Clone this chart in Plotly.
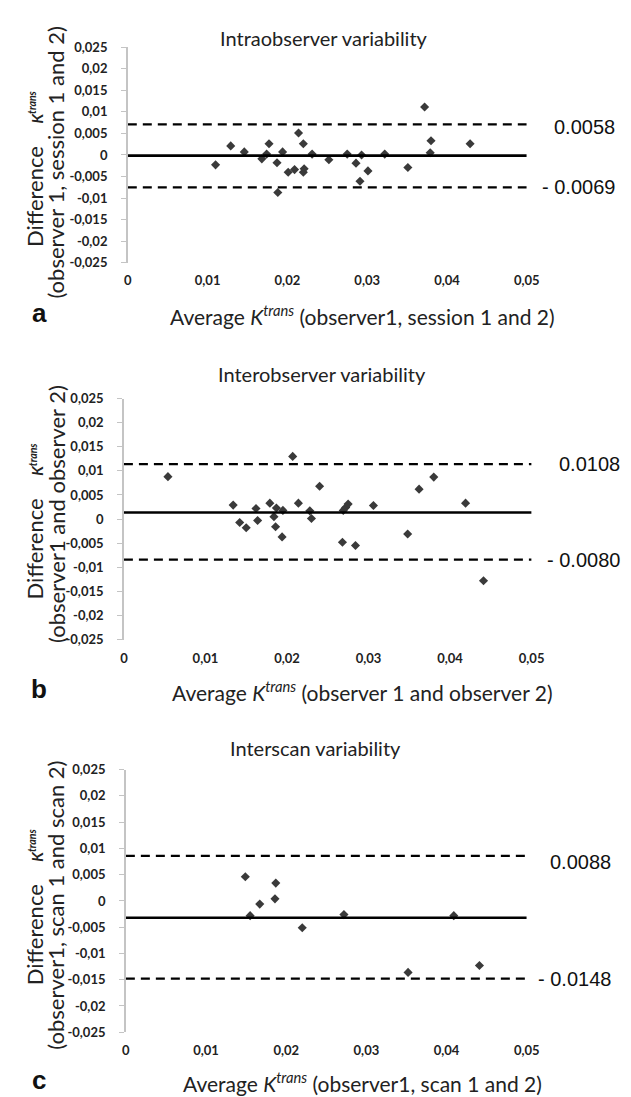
import plotly.graph_objects as go

W, H = 631, 1097

# ---- tick labels ----
x_ticks = [0, 0.01, 0.02, 0.03, 0.04, 0.05]
x_tick_text = ["0", "0,01", "0,02", "0,03", "0,04", "0,05"]
y_ticks = [0.025, 0.02, 0.015, 0.01, 0.005, 0, -0.005, -0.01, -0.015, -0.02, -0.025]
y_tick_text = ["0,025", "0,02", "0,015", "0,01", "0,005", "0",
               "-0,005", "-0,01", "-0,015", "-0,02", "-0,025"]

# ---- panel a: intraobserver ----
a_title = "Intraobserver variability"
a_avg = [0.0110, 0.0129, 0.0146, 0.0168, 0.0174, 0.0177, 0.0187, 0.0188, 0.0194,
         0.0201, 0.0209, 0.0214, 0.0220, 0.0221, 0.0220, 0.0231, 0.0252, 0.0275,
         0.0286, 0.0291, 0.0293, 0.0301, 0.0322, 0.0351, 0.0372, 0.0380, 0.0379, 0.0429]
a_diff = [-0.0023, 0.0021, 0.0007, -0.0009, 0.0002, 0.0026, -0.0018, -0.0087, 0.0007,
          -0.0040, -0.0034, 0.0051, 0.0026, -0.0032, -0.0040, 0.0002, -0.0011, 0.0002,
          -0.0019, -0.0061, 0.0000, -0.0037, 0.0002, -0.0029, 0.0111, 0.0033, 0.0005, 0.0026]
a_mean, a_upper, a_lower = -0.00015, 0.0071, -0.0075
a_upper_label, a_lower_label = "0.0058", "- 0.0069"
a_ytitle2 = "(observer 1, session 1 and 2)"
a_xtitle = "Average <i>K<sup>trans</sup></i> (observer1, session 1 and 2)"

# ---- panel b: interobserver ----
b_title = "Interobserver variability"
b_avg = [0.0054, 0.0134, 0.0142, 0.0150, 0.0162, 0.0164, 0.0179, 0.0184, 0.0186,
         0.0187, 0.0195, 0.0194, 0.0207, 0.0214, 0.0228, 0.0230, 0.0240, 0.0268,
         0.0269, 0.0272, 0.0275, 0.0284, 0.0306, 0.0348, 0.0362, 0.0380, 0.0419, 0.0441]
b_diff = [0.0088, 0.0029, -0.0007, -0.0018, 0.0022, -0.0003, 0.0033, 0.0005, -0.0016,
          0.0023, 0.0018, -0.0037, 0.0130, 0.0033, 0.0017, 0.0001, 0.0068, -0.0048,
          0.0018, 0.0024, 0.0031, -0.0055, 0.0028, -0.0031, 0.0062, 0.0087, 0.0033, -0.0128]
b_mean, b_upper, b_lower = 0.00136, 0.0114, -0.0084
b_upper_label, b_lower_label = "0.0108", "- 0.0080"
b_ytitle2 = "(observer1 and observer 2)"
b_xtitle = "Average <i>K<sup>trans</sup></i> (observer 1 and observer 2)"

# ---- panel c: interscan ----
c_title = "Interscan variability"
c_avg = [0.0149, 0.0155, 0.0167, 0.0187, 0.0186, 0.0220, 0.0272, 0.0352, 0.0409, 0.0441]
c_diff = [0.0046, -0.0028, -0.0006, 0.0034, 0.0004, -0.0051, -0.0026, -0.0136, -0.0028, -0.0123]
c_mean, c_upper, c_lower = -0.0032, 0.0086, -0.0148
c_upper_label, c_lower_label = "0.0088", "- 0.0148"
c_ytitle2 = "(observer1, scan 1 and scan 2)"
c_xtitle = "Average <i>K<sup>trans</sup></i> (observer1, scan 1 and 2)"

ytitle1 = ("Difference    <span style='font-size:15px'><b><i>K<sup>trans</sup></i></b></span>")
panel_letters = ["a", "b", "c"]

# ---- layout geometry (pixels) ----
panels = [
    dict(avg=a_avg, diff=a_diff, mean=a_mean, up=a_upper, lo=a_lower,
         uplab=a_upper_label, lolab=a_lower_label, title=a_title, yt2=a_ytitle2, xt=a_xtitle,
         x0=119, x1=529, ytop=31.5, ybot=250.5, ticklen=6, titlex=321, titley=22,
         xtitley=303, labx=622, upshift=-3, loshift=0, y1off=14, y2off=8),
    dict(avg=b_avg, diff=b_diff, mean=b_mean, up=b_upper, lo=b_lower,
         uplab=b_upper_label, lolab=b_lower_label, title=b_title, yt2=b_ytitle2, xt=b_xtitle,
         x0=115, x1=534, ytop=388.2, ybot=632.8, ticklen=7, titlex=319, titley=363,
         xtitley=685, labx=627, upshift=0, loshift=0, y1off=2, y2off=-5),
    dict(avg=c_avg, diff=c_diff, mean=c_mean, up=c_upper, lo=c_lower,
         uplab=c_upper_label, lolab=c_lower_label, title=c_title, yt2=c_ytitle2, xt=c_xtitle,
         x0=117, x1=529, ytop=764.8, ybot=1031.3, ticklen=6, titlex=312, titley=743,
         xtitley=1082, labx=618, upshift=-6, loshift=0, y1off=6, y2off=4),
]

def py(p):
    return 1 - p / H

def px(p):
    return p / W

fig = go.Figure()
annotations = []
tickfont = dict(family="Lato", size=13, color="#222222", weight="bold")
textfont = "Lato"
dark = "#222222"

for i, p in enumerate(panels):
    n = "" if i == 0 else str(i + 1)
    xa, ya = "x" + n, "y" + n
    # data points
    fig.add_trace(go.Scatter(x=p["avg"], y=p["diff"], mode="markers", xaxis=xa, yaxis=ya,
                             marker=dict(symbol="diamond", size=7, color="#3a3a3a"),
                             showlegend=False, cliponaxis=False))
    # mean line and limits of agreement
    fig.add_trace(go.Scatter(x=[0, 0.05], y=[p["mean"], p["mean"]], mode="lines",
                             xaxis=xa, yaxis=ya, line=dict(color="black", width=2.6),
                             showlegend=False, hoverinfo="skip"))
    for v in (p["up"], p["lo"]):
        fig.add_trace(go.Scatter(x=[0, 0.05], y=[v, v], mode="lines", xaxis=xa, yaxis=ya,
                                 line=dict(color="black", width=2.2, dash="9px,6px"),
                                 showlegend=False, hoverinfo="skip"))
    xdom = [px(p["x0"]), px(p["x1"])]
    ydom = [py(p["ybot"]), py(p["ytop"])]
    fig.update_layout(**{
        ("xaxis" + n): dict(domain=xdom, range=[0, 0.05], anchor=ya, showline=False,
                             showgrid=False, zeroline=False, tickvals=x_ticks,
                             ticktext=x_tick_text, ticks="outside", ticklen=p["ticklen"],
                             tickcolor="rgba(0,0,0,0)", tickfont=tickfont, fixedrange=True),
        ("yaxis" + n): dict(domain=ydom, range=[-0.025, 0.025], anchor=xa, showline=True,
                             linecolor="#c4c4c4", linewidth=1.5, showgrid=False,
                             zeroline=False, tickvals=y_ticks, ticktext=y_tick_text,
                             ticks="outside", ticklen=5, tickcolor="#c4c4c4", tickwidth=1.2,
                             ticklabelstandoff=11, tickfont=tickfont, fixedrange=True),
    })
    common = dict(xref="paper", yref="paper", showarrow=False,
                  xanchor="center", yanchor="middle")
    # chart title
    annotations.append(dict(text=p["title"], x=px(p["titlex"]), y=py(p["titley"]),
                            font=dict(family=textfont, size=20, color=dark), **common))
    # y-axis titles (two rotated lines)
    ymid = (p["ytop"] + p["ybot"]) / 2
    annotations.append(dict(text=ytitle1, x=px(23), y=py(ymid + p["y1off"]), textangle=-90,
                            font=dict(family=textfont, size=22, color=dark), **common))
    annotations.append(dict(text=p["yt2"], x=px(45), y=py(ymid + p["y2off"]), textangle=-90,
                            font=dict(family=textfont, size=22, color=dark), **common))
    # x-axis title and panel letter
    annotations.append(dict(text=p["xt"], x=px(360), y=py(p["xtitley"]),
                            font=dict(family=textfont, size=21, color=dark), **common))
    annotations.append(dict(text="<b>" + panel_letters[i] + "</b>", x=px(28),
                            y=py(p["xtitley"] - 2),
                            font=dict(family="Liberation Sans", size=26, color="#111111"),
                            **common))
    # limit labels on right
    annotations.append(dict(text=p["uplab"], x=px(p["labx"]), xanchor="right", y=p["up"],
                            yref=ya, xref="paper", yanchor="middle", yshift=p["upshift"],
                            showarrow=False,
                            font=dict(family="Liberation Sans", size=20, color="#111111")))
    annotations.append(dict(text=p["lolab"], x=px(p["labx"]), xanchor="right", y=p["lo"],
                            yref=ya, xref="paper", yanchor="middle", yshift=p["loshift"],
                            showarrow=False,
                            font=dict(family="Liberation Sans", size=20, color="#111111")))

fig.update_layout(width=W, height=H, margin=dict(l=0, r=0, t=0, b=0),
                  paper_bgcolor="white", plot_bgcolor="white",
                  annotations=annotations, showlegend=False)

fig.write_html("out.html")
